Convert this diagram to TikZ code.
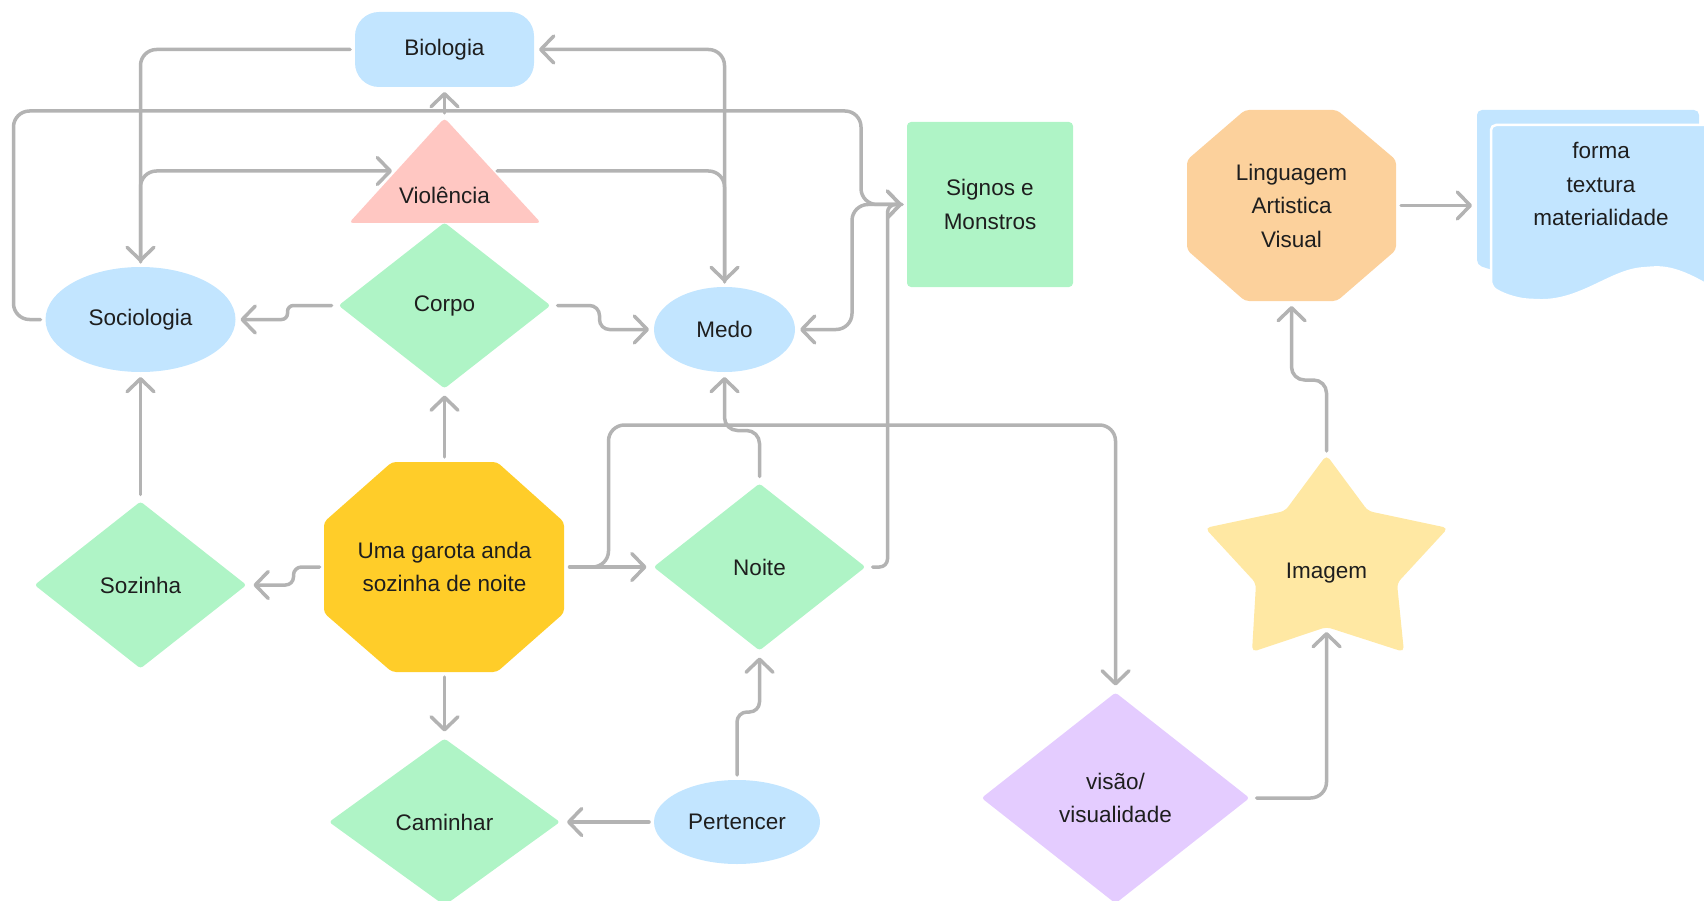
\documentclass[tikz,border=0pt]{standalone}
\usepackage{fontspec}
\setmainfont{Liberation Sans}
\usetikzlibrary{arrows.meta,shapes.geometric,calc}
\definecolor{lblue}{HTML}{C2E5FF}
\definecolor{lgreen}{HTML}{AFF4C6}
\definecolor{lpink}{HTML}{FFC7C2}
\definecolor{lorange}{HTML}{FCD19C}
\definecolor{lyellow}{HTML}{FFE8A3}
\definecolor{lviolet}{HTML}{E4CCFF}
\definecolor{gold}{HTML}{FFCD29}
\definecolor{conn}{HTML}{B3B3B3}
\definecolor{ink}{HTML}{1E1E1E}
\begin{document}
\begin{tikzpicture}[x=1pt,y=-1pt,
  lbl/.style={text=ink, font=\fontsize{22.5}{33.5}\selectfont, align=center, inner sep=0pt},
  shp/.style={lbl, outer sep=5pt},
  dia/.style={shp, diamond, fill=lgreen, rounded corners=3pt},
  ell/.style={shp, ellipse, fill=lblue},
  link/.style={draw=conn, line width=3.5pt, line cap=round, line join=round, rounded corners=16pt, -{Straight Barb[length=13pt,width=27pt,round]}},
]
\useasboundingbox (0,0) rectangle (1704,901);

% custom shapes
\fill[lpink, rounded corners=4pt] (444.5,118) -- (541,223) -- (349,223) -- cycle;
\fill[gold, rounded corners=4pt] (392,462) -- (497,462) -- (564,522) -- (564,613) -- (497,672) -- (392,672) -- (324,613) -- (324,522) -- cycle;
\fill[lorange, rounded corners=4pt] (1245,110) -- (1337,110) -- (1396,160) -- (1396,250) -- (1337,301) -- (1245,301) -- (1187,250) -- (1187,160) -- cycle;
\fill[lyellow, rounded corners=5pt] (1326.5,455) -- (1368,511) -- (1448,528) -- (1397,583.3) -- (1404,652) -- (1326.5,627) -- (1252,652) -- (1256,583.3) -- (1205,528) -- (1285,511) -- cycle;
\fill[lblue, rounded corners=5pt] (1477,110) -- (1699,110) -- (1699,262) -- (1492,270) -- (1477,265) -- cycle;
\filldraw[fill=lblue, draw=white, line width=2.5pt, rounded corners=5pt] (1491,125) -- (1716,125) -- (1716,290) .. controls (1690,275) and (1672,266) .. (1647,268) .. controls (1610,271) and (1580,302) .. (1533,300) .. controls (1515,299) and (1500,293) .. (1491,286) -- cycle;

% nodes
\node[shp, rectangle, fill=lblue, rounded corners=24pt, minimum width=179pt, minimum height=75pt] (bio) at (444.5,49.5) {Biologia};
\node[lbl] (vio) at (444.5,195) {Violência};
\node[dia, minimum width=216pt, minimum height=170pt] (corpo) at (444.5,305.5) {Corpo};
\node[ell, minimum width=190pt, minimum height=105pt] (socio) at (140.5,319.5) {Sociologia};
\node[ell, minimum width=141pt, minimum height=85pt] (medo) at (724.5,329.5) {Medo};
\node[shp, rectangle, fill=lgreen, rounded corners=4pt, minimum width=166pt, minimum height=165pt] (sig) at (990,204.5) {Signos e\\Monstros};
\node[shp, minimum width=209pt, minimum height=191pt] (ling) at (1291.5,205.5) {Linguagem\\Artistica\\Visual};
\node[shp, minimum width=223pt, minimum height=190pt] (doc) at (1588.5,205.5) {};
\node[lbl] (doctext) at (1601,184) {forma\\textura\\materialidade};
\node[shp, minimum width=240pt, minimum height=210pt] (uma) at (444.5,567) {Uma garota anda\\sozinha de noite};
\node[dia, minimum width=216pt, minimum height=171pt] (soz) at (140.5,585) {Sozinha};
\node[dia, minimum width=216pt, minimum height=171pt] (noite) at (759.5,567) {Noite};
\node[dia, minimum width=235pt, minimum height=171pt] (cam) at (444.5,822) {Caminhar};
\node[ell, minimum width=166pt, minimum height=84pt] (pert) at (737,822) {Pertencer};
\node[dia, fill=lviolet, minimum width=272pt, minimum height=215pt] (vis) at (1115.5,798) {visão/\\visualidade};
\node[lbl] (img) at (1326.5,573) {Imagem};

\coordinate (vtop) at (444.5,113);
\coordinate (vleft) at (392,171);
\coordinate (vright) at (497,171);
\coordinate (imgtop) at (1326.5,451);
\coordinate (imgbot) at (1326.5,632);

% connectors
\draw[link] (bio.west) -| (socio.north);
\draw[link] (socio.north) |- (vleft);
\draw[link] (vtop) -- (bio.south);
\draw[link] (vright) -| (medo.north);
\draw[link] (medo.north) |- (bio.east);
\draw[link] (socio.west) -- ++(-27,0) |- (861,111) |- (sig.west);
\draw[link] (sig.west) -- ++(-50,0) |- (medo.east);
\draw[link, rounded corners=8pt] (noite.east) -- ++(15,0) |- (sig.west);
\draw[link, rounded corners=6pt] (corpo.west) -- ++(-44,0) |- (socio.east);
\draw[link, rounded corners=10pt] (corpo.east) -- ++(42,0) |- (medo.west);
\draw[link] (soz.north) -- (socio.south);
\draw[link] (uma.north) -- (corpo.south);
\draw[link, rounded corners=8pt] (uma.west) -- ++(-26,0) |- (soz.east);
\draw[link] (uma.east) -- (noite.west);
\draw[link] (uma.east) -- ++(39,0) -- ++(0,-142) -| (vis.north);
\draw[link, rounded corners=13pt] (noite.north) -- ++(0,-46) -| (medo.south);
\draw[link] (pert.west) -- (cam.east);
\draw[link, rounded corners=10pt] (pert.north) -- ++(0,-63) -| (noite.south);
\draw[link] (uma.south) -- (cam.north);
\draw[link] (vis.east) -| (imgbot);
\draw[link, rounded corners=13pt] (imgtop) -- ++(0,-71) -| (ling.south);
\draw[link] (ling.east) -- (doc.west);
\end{tikzpicture}
\end{document}
